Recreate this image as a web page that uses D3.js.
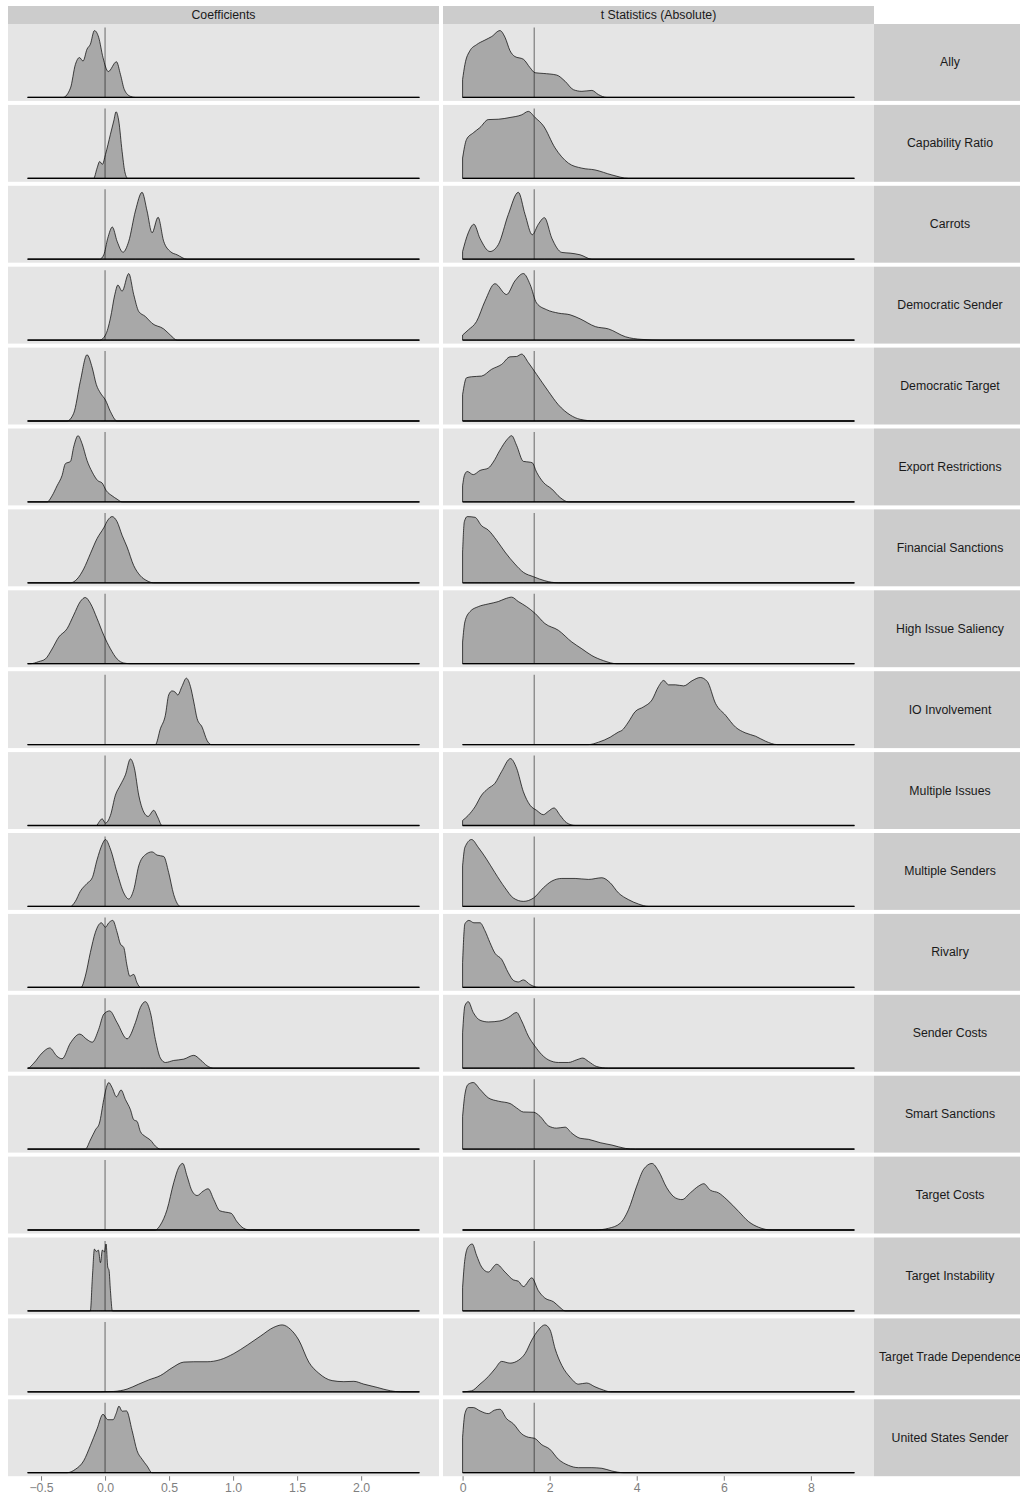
<!DOCTYPE html>
<html>
<head>
<meta charset="utf-8">
<script src="https://cdn.jsdelivr.net/npm/d3@7"></script>
<style>
  body { margin: 0; background: #fff; }
  svg text { font-family: "Liberation Sans", Arial, Helvetica, sans-serif; }
</style>
</head>
<body>
<svg id="chart"></svg>
<script>
// row labels (right strips), top to bottom
const labels = [
  'Ally', 'Capability Ratio', 'Carrots', 'Democratic Sender', 'Democratic Target',
  'Export Restrictions', 'Financial Sanctions', 'High Issue Saliency', 'IO Involvement',
  'Multiple Issues', 'Multiple Senders', 'Rivalry', 'Sender Costs', 'Smart Sanctions',
  'Target Costs', 'Target Instability', 'Target Trade Dependence', 'United States Sender'
];
const columnNames = ['Coefficients', 't Statistics (Absolute)'];

// data range of each column and reference lines
const coefRange = [-0.605, 2.455];
const tRange = [0, 9];
const coefRef = 0;
const tRef = 1.645;
const coefTicks = [-0.5, 0, 0.5, 1, 1.5, 2];
const tTicks = [0, 2, 4, 6, 8];

// scaled densities: [value, density]
const coefAlly = [[-0.328,0],[-0.27,0.135],[-0.232,0.47],[-0.2,0.57],[-0.172,0.52],[-0.141,0.69],[-0.115,0.76],[-0.083,0.956],[-0.05,0.86],[-0.016,0.57],[0.025,0.37],[0.089,0.51],[0.12,0.33],[0.151,0.11],[0.198,0.015],[0.237,0]];
const coefCap = [[-0.089,0],[-0.0625,0.145],[-0.042,0.24],[-0.021,0.2],[0.003,0.34],[0.042,0.63],[0.068,0.82],[0.086,0.952],[0.107,0.82],[0.133,0.386],[0.154,0.097],[0.177,0]];
const coefCarrots = [[-0.042,0],[-0.01,0.063],[0.021,0.3],[0.057,0.46],[0.094,0.256],[0.14,0.1],[0.185,0.256],[0.237,0.69],[0.289,0.957],[0.328,0.69],[0.367,0.377],[0.414,0.6],[0.458,0.256],[0.51,0.11],[0.5625,0.063],[0.64,0]];
const coefDemSender = [[-0.042,0],[0.003,0.072],[0.042,0.314],[0.076,0.65],[0.1,0.787],[0.133,0.7],[0.185,0.952],[0.224,0.65],[0.263,0.41],[0.315,0.338],[0.367,0.24],[0.458,0.16],[0.51,0.072],[0.5625,0]];
const coefDemTarget = [[-0.297,0],[-0.245,0.11],[-0.193,0.57],[-0.141,0.947],[-0.1,0.76],[-0.068,0.52],[-0.036,0.4],[0.003,0.3],[0.042,0.135],[0.094,0]];
const coefExport = [[-0.453,0],[-0.414,0.087],[-0.375,0.23],[-0.336,0.377],[-0.31,0.546],[-0.27,0.58],[-0.245,0.787],[-0.211,0.947],[-0.18,0.836],[-0.141,0.594],[-0.1,0.425],[-0.057,0.304],[-0.023,0.27],[0.01,0.16],[0.055,0.087],[0.094,0.039],[0.133,0]];
const coefFinancial = [[-0.27,0],[-0.219,0.053],[-0.167,0.198],[-0.115,0.415],[-0.0625,0.633],[-0.01,0.787],[0.023,0.9],[0.055,0.947],[0.094,0.874],[0.133,0.68],[0.172,0.512],[0.224,0.246],[0.276,0.1],[0.328,0.029],[0.38,0]];
const coefSaliency = [[-0.583,0],[-0.518,0.03],[-0.466,0.068],[-0.414,0.21],[-0.362,0.38],[-0.297,0.5],[-0.245,0.695],[-0.193,0.89],[-0.154,0.947],[-0.115,0.865],[-0.0625,0.647],[-0.01,0.406],[0.042,0.213],[0.094,0.068],[0.146,0.01],[0.198,0]];
const coefIO = [[0.393,0],[0.432,0.227],[0.471,0.42],[0.497,0.71],[0.523,0.768],[0.549,0.749],[0.568,0.71],[0.6,0.83],[0.635,0.95],[0.667,0.83],[0.693,0.61],[0.719,0.372],[0.758,0.25],[0.797,0.058],[0.828,0]];
const coefMultIssues = [[-0.068,0],[-0.044,0.058],[-0.023,0.097],[0.003,0.034],[0.042,0.145],[0.081,0.435],[0.12,0.58],[0.159,0.725],[0.198,0.952],[0.229,0.82],[0.263,0.435],[0.302,0.193],[0.336,0.13],[0.38,0.217],[0.411,0.12],[0.445,0]];
const coefMultSenders = [[-0.27,0],[-0.232,0.072],[-0.193,0.217],[-0.141,0.328],[-0.1,0.41],[-0.0625,0.667],[-0.023,0.884],[0.003,0.957],[0.042,0.82],[0.094,0.483],[0.146,0.193],[0.185,0.106],[0.224,0.24],[0.263,0.58],[0.315,0.74],[0.367,0.78],[0.406,0.734],[0.458,0.715],[0.497,0.483],[0.536,0.17],[0.589,0]];
const coefRivalry = [[-0.1875,0],[-0.154,0.16],[-0.115,0.497],[-0.0755,0.787],[-0.029,0.923],[0.003,0.86],[0.029,0.923],[0.06,0.957],[0.094,0.787],[0.12,0.618],[0.146,0.57],[0.172,0.304],[0.193,0.16],[0.224,0.184],[0.25,0.063],[0.276,0]];
const coefSenderCosts = [[-0.604,0],[-0.557,0.072],[-0.492,0.217],[-0.432,0.29],[-0.375,0.17],[-0.336,0.135],[-0.27,0.362],[-0.198,0.488],[-0.141,0.41],[-0.1,0.372],[-0.05,0.555],[-0.01,0.773],[0.036,0.82],[0.094,0.652],[0.172,0.42],[0.237,0.652],[0.276,0.87],[0.315,0.952],[0.354,0.797],[0.393,0.41],[0.432,0.145],[0.471,0.082],[0.536,0.111],[0.615,0.13],[0.693,0.184],[0.745,0.12],[0.797,0.034],[0.849,0]];
const coefSmart = [[-0.154,0],[-0.115,0.13],[-0.0755,0.275],[-0.044,0.372],[-0.01,0.71],[0.01,0.88],[0.029,0.952],[0.055,0.88],[0.089,0.749],[0.125,0.845],[0.159,0.71],[0.198,0.565],[0.224,0.42],[0.25,0.396],[0.276,0.251],[0.315,0.179],[0.354,0.13],[0.393,0.043],[0.432,0]];
const coefTargetCosts = [[0.393,0],[0.432,0.072],[0.484,0.29],[0.536,0.676],[0.575,0.894],[0.607,0.952],[0.64,0.773],[0.68,0.556],[0.719,0.493],[0.766,0.556],[0.805,0.59],[0.849,0.435],[0.896,0.275],[0.94,0.256],[0.984,0.24],[1.03,0.12],[1.083,0.024],[1.135,0]];
const coefInstability = [[-0.115,0],[-0.099,0.483],[-0.083,0.884],[-0.068,0.85],[-0.052,0.87],[-0.036,0.69],[-0.021,0.87],[-0.005,0.845],[0.008,0.957],[0.021,0.628],[0.031,0.58],[0.042,0.29],[0.057,0]];
const coefTradeDep = [[-0.036,0],[0.068,0.005],[0.172,0.039],[0.263,0.11],[0.341,0.17],[0.432,0.232],[0.523,0.343],[0.615,0.425],[0.693,0.43],[0.797,0.43],[0.9,0.46],[1.005,0.546],[1.11,0.667],[1.214,0.797],[1.318,0.923],[1.383,0.957],[1.448,0.894],[1.513,0.74],[1.591,0.425],[1.669,0.266],[1.773,0.16],[1.865,0.145],[1.943,0.15],[2.02,0.11],[2.125,0.063],[2.23,0.014],[2.307,0]];
const coefUS = [[-0.297,0],[-0.232,0.048],[-0.167,0.17],[-0.115,0.386],[-0.0625,0.628],[-0.016,0.836],[0.021,0.758],[0.0625,0.758],[0.086,0.845],[0.109,0.952],[0.133,0.88],[0.167,0.884],[0.211,0.604],[0.25,0.314],[0.289,0.193],[0.328,0.097],[0.367,0]];

const tAlly = [[0,0.256],[0.053,0.47],[0.168,0.667],[0.32,0.754],[0.513,0.82],[0.667,0.87],[0.858,0.956],[0.974,0.86],[1.09,0.667],[1.2,0.585],[1.396,0.546],[1.55,0.425],[1.664,0.353],[1.85,0.343],[2.16,0.32],[2.355,0.23],[2.547,0.11],[2.74,0.087],[2.97,0.1],[3.12,0.04],[3.31,0]];
const tCap = [[0,0.29],[0.09,0.556],[0.245,0.65],[0.398,0.725],[0.59,0.84],[0.82,0.845],[1.09,0.87],[1.357,0.908],[1.51,0.957],[1.664,0.87],[1.857,0.75],[2.124,0.435],[2.43,0.217],[2.74,0.145],[3.04,0.12],[3.43,0.048],[3.81,0]];
const tCarrots = [[0,0.11],[0.13,0.377],[0.26,0.5],[0.398,0.3],[0.63,0.11],[0.82,0.208],[1.05,0.64],[1.28,0.957],[1.435,0.64],[1.6,0.35],[1.74,0.5],[1.88,0.594],[2.05,0.3],[2.28,0.097],[2.47,0.087],[2.7,0.063],[2.97,0]];
const tDemSender = [[0,0.072],[0.13,0.145],[0.32,0.266],[0.513,0.556],[0.743,0.807],[1.01,0.652],[1.2,0.845],[1.396,0.952],[1.55,0.797],[1.7,0.53],[1.93,0.435],[2.2,0.386],[2.47,0.362],[2.7,0.304],[3.05,0.193],[3.35,0.16],[3.74,0.048],[4.12,0.01],[4.58,0]];
const tDemTarget = [[0,0.377],[0.09,0.618],[0.207,0.633],[0.437,0.643],[0.667,0.74],[0.897,0.81],[1.09,0.918],[1.24,0.923],[1.357,0.957],[1.51,0.836],[1.7,0.667],[1.97,0.425],[2.2,0.232],[2.47,0.087],[2.7,0.024],[3.05,0]];
const tExport = [[0,0.23],[0.04,0.377],[0.107,0.435],[0.245,0.39],[0.4,0.45],[0.59,0.483],[0.705,0.57],[0.858,0.74],[1.01,0.884],[1.127,0.947],[1.24,0.81],[1.396,0.58],[1.526,0.57],[1.6,0.56],[1.7,0.425],[1.855,0.28],[2.05,0.184],[2.24,0.063],[2.43,0]];
const tFinancial = [[0,0.44],[0.04,0.874],[0.107,0.947],[0.284,0.937],[0.437,0.816],[0.59,0.754],[0.78,0.61],[0.974,0.44],[1.2,0.27],[1.396,0.15],[1.63,0.087],[1.89,0.029],[2.2,0]];
const tSaliency = [[0,0.31],[0.053,0.6],[0.168,0.744],[0.36,0.816],[0.59,0.855],[0.82,0.889],[0.974,0.928],[1.127,0.952],[1.28,0.889],[1.47,0.816],[1.664,0.72],[1.89,0.575],[2.2,0.478],[2.51,0.31],[2.74,0.213],[2.97,0.116],[3.24,0.043],[3.54,0]];
const tIO = [[2.89,0],[3.12,0.034],[3.39,0.106],[3.58,0.18],[3.66,0.203],[3.81,0.324],[3.96,0.469],[4.16,0.541],[4.35,0.638],[4.5,0.83],[4.62,0.918],[4.73,0.855],[4.89,0.855],[5.08,0.84],[5.27,0.913],[5.46,0.96],[5.62,0.903],[5.81,0.589],[6.04,0.42],[6.27,0.25],[6.49,0.169],[6.73,0.12],[6.96,0.048],[7.23,0]];
const tMultIssues = [[0,0.072],[0.13,0.145],[0.284,0.266],[0.437,0.435],[0.59,0.53],[0.743,0.604],[0.897,0.773],[1.1,0.957],[1.24,0.82],[1.396,0.483],[1.55,0.29],[1.7,0.217],[1.855,0.155],[1.97,0.203],[2.1,0.251],[2.24,0.145],[2.39,0.039],[2.59,0]];
const tMultSenders = [[0,0.58],[0.053,0.845],[0.206,0.957],[0.36,0.845],[0.55,0.676],[0.743,0.483],[0.974,0.266],[1.166,0.12],[1.396,0.072],[1.63,0.12],[1.855,0.266],[2.05,0.362],[2.28,0.4],[2.585,0.4],[2.89,0.386],[3.2,0.41],[3.39,0.338],[3.58,0.193],[3.81,0.097],[4.04,0.034],[4.27,0]];
const tRivalry = [[0,0.353],[0.053,0.908],[0.145,0.957],[0.26,0.923],[0.4,0.923],[0.513,0.81],[0.628,0.64],[0.743,0.488],[0.897,0.4],[1.05,0.208],[1.166,0.1],[1.28,0.077],[1.396,0.106],[1.55,0.039],[1.74,0]];
const tSenderCosts = [[0,0.507],[0.053,0.894],[0.13,0.952],[0.245,0.797],[0.4,0.686],[0.59,0.662],[0.858,0.676],[1.05,0.725],[1.24,0.797],[1.357,0.676],[1.51,0.459],[1.664,0.314],[1.82,0.193],[1.97,0.12],[2.2,0.082],[2.43,0.082],[2.62,0.12],[2.76,0.145],[2.89,0.097],[3.08,0.024],[3.35,0]];
const tSmart = [[0,0.469],[0.053,0.783],[0.13,0.928],[0.245,0.952],[0.4,0.855],[0.59,0.734],[0.82,0.686],[1.09,0.652],[1.24,0.589],[1.396,0.531],[1.63,0.527],[1.78,0.469],[1.97,0.333],[2.16,0.3],[2.355,0.314],[2.51,0.227],[2.7,0.155],[2.89,0.14],[3.16,0.092],[3.43,0.058],[3.74,0.01],[3.97,0]];
const tTargetCosts = [[3.045,0],[3.35,0.024],[3.62,0.097],[3.81,0.29],[4.0,0.628],[4.16,0.87],[4.35,0.952],[4.5,0.845],[4.69,0.604],[4.89,0.459],[5.04,0.435],[5.23,0.531],[5.42,0.628],[5.54,0.662],[5.69,0.57],[5.88,0.531],[6.07,0.435],[6.34,0.266],[6.57,0.12],[6.8,0.039],[7.11,0]];
const tInstability = [[0,0.338],[0.053,0.74],[0.13,0.918],[0.222,0.957],[0.32,0.797],[0.437,0.628],[0.59,0.556],[0.782,0.667],[0.974,0.556],[1.166,0.444],[1.28,0.425],[1.396,0.348],[1.59,0.473],[1.74,0.29],[1.89,0.184],[2.09,0.13],[2.24,0.048],[2.355,0]];
const tTradeDep = [[0,0],[0.206,0.014],[0.4,0.11],[0.59,0.217],[0.743,0.328],[0.897,0.435],[1.09,0.41],[1.28,0.45],[1.435,0.546],[1.59,0.74],[1.74,0.884],[1.89,0.957],[2.01,0.884],[2.124,0.618],[2.28,0.377],[2.47,0.208],[2.66,0.11],[2.85,0.126],[3.04,0.072],[3.24,0.024],[3.39,0]];
const tUS = [[0,0.507],[0.053,0.845],[0.13,0.932],[0.245,0.932],[0.4,0.884],[0.59,0.845],[0.73,0.894],[0.858,0.908],[1.01,0.773],[1.166,0.7],[1.357,0.556],[1.51,0.507],[1.65,0.493],[1.82,0.4],[2.0,0.338],[2.2,0.193],[2.43,0.106],[2.66,0.072],[2.97,0.072],[3.2,0.063],[3.43,0.024],[3.7,0]];

const coefCurves = [coefAlly, coefCap, coefCarrots, coefDemSender, coefDemTarget, coefExport,
  coefFinancial, coefSaliency, coefIO, coefMultIssues, coefMultSenders, coefRivalry,
  coefSenderCosts, coefSmart, coefTargetCosts, coefInstability, coefTradeDep, coefUS];
const tCurves = [tAlly, tCap, tCarrots, tDemSender, tDemTarget, tExport,
  tFinancial, tSaliency, tIO, tMultIssues, tMultSenders, tRivalry,
  tSenderCosts, tSmart, tTargetCosts, tInstability, tTradeDep, tUS];

const W = 1020, H = 1498;
const top0 = 24, panelH = 76.9, gap = 4;
const stripTop = 6;
const fontSize = 12.3;

const svg = d3.select('#chart').attr('width', W).attr('height', H);

function expand(r) {
  const pad = (r[1] - r[0]) * 0.05;
  return [r[0] - pad, r[1] + pad];
}

const columns = [
  { name: columnNames[0], x0: 8, x1: 439, range: coefRange, curves: coefCurves, ref: coefRef,
    ticks: coefTicks, fmt: d3.format('.1f') },
  { name: columnNames[1], x0: 443, x1: 874, range: tRange, curves: tCurves, ref: tRef,
    ticks: tTicks, fmt: d3.format('d') }
];
columns.forEach(c => {
  c.x = d3.scaleLinear().domain(expand(c.range)).range([c.x0, c.x1]);
});

const rowTop = i => top0 + i * (panelH + gap);
const bottom = rowTop(labels.length - 1) + panelH;

// pad each curve out to the column's data range with zero density
function fullCurve(pts, range) {
  const out = pts.slice();
  if (out[0][0] > range[0]) out.unshift([range[0], 0]);
  if (out[out.length - 1][0] < range[1]) out.push([range[1], 0]);
  return out;
}

labels.forEach((label, i) => {
  const t = rowTop(i);
  const y = d3.scaleLinear().domain([-0.05, 1.05]).range([t + panelH, t]);

  columns.forEach(c => {
    const g = svg.append('g');
    g.append('rect')
      .attr('x', c.x0).attr('y', t)
      .attr('width', c.x1 - c.x0).attr('height', panelH)
      .attr('fill', '#E5E5E5');

    const area = d3.area()
      .x(d => c.x(d[0]))
      .y0(y(0))
      .y1(d => y(d[1]))
      .curve(d3.curveMonotoneX);

    g.append('path')
      .datum(fullCurve(c.curves[i], c.range))
      .attr('d', area)
      .attr('fill', '#A8A8A8')
      .attr('stroke', '#000')
      .attr('stroke-width', 0.7)
      .attr('stroke-linejoin', 'round');

    g.append('line')
      .attr('x1', c.x(c.range[0])).attr('x2', c.x(c.range[1]))
      .attr('y1', y(0)).attr('y2', y(0))
      .attr('stroke', '#000').attr('stroke-width', 1.3);

    g.append('line')
      .attr('x1', c.x(c.ref)).attr('x2', c.x(c.ref))
      .attr('y1', y(0)).attr('y2', y(1))
      .attr('stroke', '#000').attr('stroke-opacity', 0.5)
      .attr('stroke-width', 1.1);
  });

  // right strip
  svg.append('rect')
    .attr('x', 874).attr('y', t)
    .attr('width', W - 874).attr('height', panelH)
    .attr('fill', '#CCCCCC');
  svg.append('text')
    .attr('x', 950).attr('y', t + panelH / 2)
    .attr('text-anchor', 'middle')
    .attr('dominant-baseline', 'central')
    .attr('font-size', fontSize)
    .attr('fill', '#1A1A1A')
    .text(label);
});

columns.forEach(c => {
  // top strip
  svg.append('rect')
    .attr('x', c.x0).attr('y', stripTop)
    .attr('width', c.x1 - c.x0).attr('height', top0 - stripTop)
    .attr('fill', '#CCCCCC');
  svg.append('text')
    .attr('x', (c.x0 + c.x1) / 2).attr('y', (stripTop + top0) / 2)
    .attr('text-anchor', 'middle')
    .attr('dominant-baseline', 'central')
    .attr('font-size', fontSize)
    .attr('fill', '#1A1A1A')
    .text(c.name);

  // bottom axis
  const ax = svg.append('g')
    .attr('transform', `translate(0,${bottom})`)
    .call(d3.axisBottom(c.x).tickValues(c.ticks).tickFormat(c.fmt).tickSize(4.5).tickPadding(3));
  ax.select('.domain').remove();
  ax.selectAll('.tick line').attr('stroke', '#7F7F7F');
  ax.selectAll('.tick text')
    .attr('fill', '#7F7F7F')
    .attr('font-size', fontSize)
    .style('font-family', '"Liberation Sans", Arial, Helvetica, sans-serif');
});
</script>
</body>
</html>
